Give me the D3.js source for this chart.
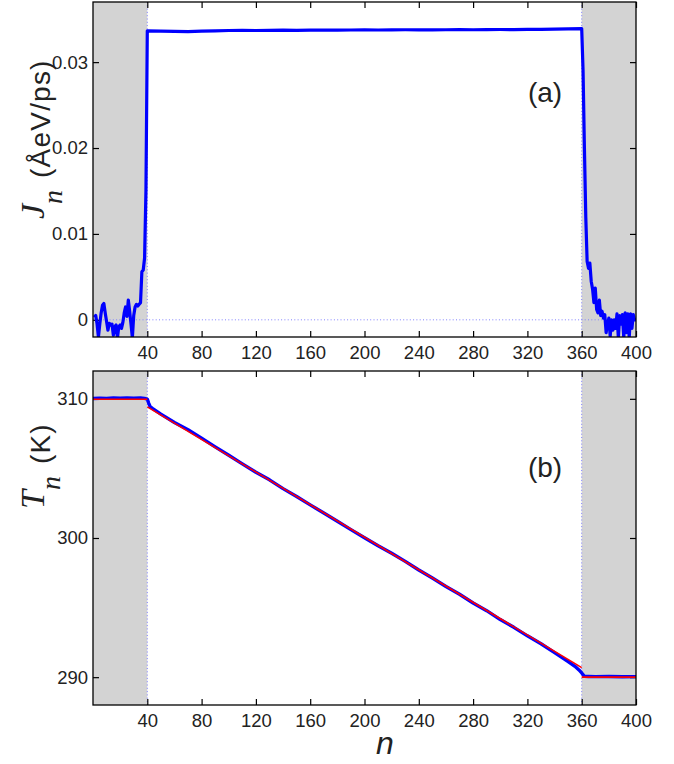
<!DOCTYPE html>
<html>
<head>
<meta charset="utf-8">
<script src="https://cdn.jsdelivr.net/npm/d3@7"></script>
<style>
  body { margin: 0; background: #fff; }
  text { font-family: "Liberation Sans", Arial, sans-serif; fill: #222; }
</style>
</head>
<body>
<svg id="chart"></svg>
<script>
let w = 674;
let h = 764;

// tick labels
let nTicks = [40, 80, 120, 160, 200, 240, 280, 320, 360, 400];
let jTicks = [0, 0.01, 0.02, 0.03];
let tTicks = [290, 300, 310];

// reservoir boundaries (shaded)
let leftBath = [0, 40];
let rightBath = [360, 400];

// heat flux J_n, n = 1..39 (left bath)
let jLeft = [0.0003, 0.0005, -0.0005, -0.0020, -0.0005, 0.0008, 0.0017, 0.0019, 0.0008, -0.0002,
             -0.0012, -0.0004, -0.0006, -0.0005, -0.0018, -0.0008, -0.0006, -0.0021, -0.0008, -0.0006,
             -0.0010, -0.0003, 0.0008, 0.0015, 0.0004, 0.0023, 0.0010, -0.0005, -0.0021, 0.0005,
             0.0015, 0.0018, 0.0016, 0.0018, 0.0020, 0.0056, 0.0058, 0.0072, 0.0150];
// middle region, n = 40..360 step 10
let nMid = [40, 50, 60, 70, 80, 90, 100, 110, 120, 130, 140, 150, 160, 170, 180, 190, 200,
            210, 220, 230, 240, 250, 260, 270, 280, 290, 300, 310, 320, 330, 340, 350, 360];
let jMid = [0.03365, 0.03362, 0.03358, 0.03356, 0.03360, 0.03365, 0.03368, 0.03370, 0.03368, 0.03370,
            0.03372, 0.03370, 0.03372, 0.03374, 0.03372, 0.03374, 0.03375, 0.03374, 0.03375, 0.03377,
            0.03376, 0.03375, 0.03377, 0.03378, 0.03377, 0.03378, 0.03380, 0.03379, 0.03381, 0.03382,
            0.03384, 0.03386, 0.03390];
// right bath, n = 361..400
let jRight = [0.0290, 0.0200, 0.0120, 0.0068, 0.0060, 0.0066, 0.0045, 0.0036, 0.0020, 0.0037,
              0.0012, 0.0008, 0.0023, 0.0005, 0.0010, 0.0002, 0.0006, -0.0015, -0.0005, 0.0002,
              -0.0019, 0.0000, -0.0012, 0.0000, -0.0010, 0.0007, -0.0021, 0.0005, -0.0005, 0.0006,
              -0.0021, 0.0008, -0.0015, 0.0007, -0.0021, 0.0007, -0.0010, 0.0006, 0.0000, 0.0000];

// temperature profile T_n (blue, simulation)
let nTemp = [0, 5, 10, 15, 20, 25, 30, 35, 38, 40, 41, 42, 44, 50, 60, 70, 80, 90, 100, 110, 120,
             130, 140, 150, 160, 170, 180, 190, 200, 210, 220, 230, 240, 250, 260, 270, 280, 290,
             300, 310, 320, 330, 340, 350, 355, 358, 360, 362, 365, 370, 380, 390, 400];
let tTemp = [310.02, 310.04, 310.03, 310.06, 310.04, 310.07, 310.05, 310.06, 310.03, 309.98, 309.70,
             309.45, 309.30, 308.90, 308.30, 307.78, 307.18, 306.55, 305.95, 305.33, 304.72, 304.18,
             303.55, 302.98, 302.38, 301.80, 301.20, 300.60, 300.02, 299.44, 298.90, 298.32, 297.70,
             297.12, 296.52, 295.96, 295.33, 294.78, 294.14, 293.58, 292.97, 292.40, 291.76, 291.12,
             290.78, 290.52, 290.30, 290.06, 290.05, 290.04, 290.05, 290.03, 290.04];
// linear fit (red), three pieces
let nFit = [[0, 40], [40, 360], [360, 400]];
let tFit = [[309.97, 309.97], [309.42, 290.69], [290.0, 290.0]];

let svg = d3.select("#chart").attr("width", w).attr("height", h);

let xScale = d3.scaleLinear().domain([0, 400]).range([93, 636]);
let yJ = d3.scaleLinear().domain([-0.002, 0.037]).range([337, 2]);
let yT = d3.scaleLinear().domain([288, 312]).range([705, 371]);

function drawPanel(yScale, ticks, fmt, id) {
  let y0 = yScale.range()[0], y1 = yScale.range()[1];
  let g = svg.append("g");

  g.append("clipPath").attr("id", id)
    .append("rect").attr("x", xScale(0)).attr("y", y1)
    .attr("width", xScale(400) - xScale(0)).attr("height", y0 - y1);

  // shaded baths
  [leftBath, rightBath].forEach(b => {
    g.append("rect")
      .attr("x", xScale(b[0])).attr("y", y1)
      .attr("width", xScale(b[1]) - xScale(b[0])).attr("height", y0 - y1)
      .attr("fill", "#d3d3d3");
  });

  // dotted boundaries
  [40, 360].forEach(n => {
    g.append("line")
      .attr("x1", xScale(n)).attr("x2", xScale(n))
      .attr("y1", y1).attr("y2", y0)
      .attr("stroke", "#8080ff").attr("stroke-width", 1)
      .attr("stroke-dasharray", "1,2.3");
  });

  let xAxis = d3.axisBottom(xScale).tickValues(nTicks).tickSizeInner(-6).tickSizeOuter(0).tickPadding(9);
  let xTop = d3.axisTop(xScale).tickValues(nTicks).tickSizeInner(-6).tickSizeOuter(0).tickFormat("");
  let yAxis = d3.axisLeft(yScale).tickValues(ticks).tickSizeInner(-6).tickSizeOuter(0).tickPadding(5).tickFormat(fmt);
  let yRight = d3.axisRight(yScale).tickValues(ticks).tickSizeInner(-6).tickSizeOuter(0).tickFormat("");

  g.append("g").attr("transform", `translate(0,${y0})`).call(xAxis);
  g.append("g").attr("transform", `translate(0,${y1})`).call(xTop);
  g.append("g").attr("transform", `translate(${xScale(0)},0)`).call(yAxis);
  g.append("g").attr("transform", `translate(${xScale(400)},0)`).call(yRight);

  g.selectAll(".domain").remove();
  g.selectAll(".tick line").attr("stroke", "#000").attr("stroke-width", 1.2);
  g.selectAll(".tick text").attr("font-size", 18.5).attr("fill", "#222")
    .attr("font-family", "'Liberation Sans', Arial, sans-serif");

  return g;
}

// ---- panel (a)
let gA = drawPanel(yJ, jTicks, d => d === 0 ? "0" : d3.format(".2f")(d), "clipA");

gA.append("line")
  .attr("x1", xScale(0)).attr("x2", xScale(400))
  .attr("y1", yJ(0)).attr("y2", yJ(0))
  .attr("stroke", "#8080ff").attr("stroke-width", 1)
  .attr("stroke-dasharray", "1,2.3");

let jData = [];
jLeft.forEach((v, i) => jData.push([i + 1, v]));
nMid.forEach((n, i) => jData.push([n, jMid[i]]));
jRight.forEach((v, i) => jData.push([361 + i, v]));

let lineJ = d3.line().x(d => xScale(d[0])).y(d => yJ(d[1]));
gA.append("path")
  .datum(jData)
  .attr("clip-path", "url(#clipA)")
  .attr("d", lineJ)
  .attr("fill", "none")
  .attr("stroke", "#0000ff")
  .attr("stroke-width", 3.2)
  .attr("stroke-linejoin", "round");

gA.append("rect")
  .attr("x", xScale(0)).attr("y", yJ.range()[1])
  .attr("width", xScale(400) - xScale(0)).attr("height", yJ.range()[0] - yJ.range()[1])
  .attr("fill", "none").attr("stroke", "#000").attr("stroke-width", 1.3);

gA.append("text").attr("x", 545).attr("y", 102).attr("text-anchor", "middle")
  .attr("font-size", 28).text("(a)");

// ---- panel (b)
let gB = drawPanel(yT, tTicks, d => d, "clipB");

let lineT = d3.line().x(d => xScale(d[0])).y(d => yT(d[1]));
gB.append("path")
  .datum(nTemp.map((n, i) => [n, tTemp[i]]))
  .attr("clip-path", "url(#clipB)")
  .attr("d", lineT)
  .attr("fill", "none")
  .attr("stroke", "#0000ff")
  .attr("stroke-width", 3.4)
  .attr("stroke-linejoin", "round");

nFit.forEach((seg, k) => {
  gB.append("path")
    .datum(seg.map((n, i) => [n, tFit[k][i]]))
    .attr("d", lineT)
    .attr("fill", "none")
    .attr("stroke", "#ff0000")
    .attr("stroke-width", 1.6);
});

gB.append("rect")
  .attr("x", xScale(0)).attr("y", yT.range()[1])
  .attr("width", xScale(400) - xScale(0)).attr("height", yT.range()[0] - yT.range()[1])
  .attr("fill", "none").attr("stroke", "#000").attr("stroke-width", 1.3);

gB.append("text").attr("x", 545).attr("y", 477).attr("text-anchor", "middle")
  .attr("font-size", 28).text("(b)");

// ---- axis labels
let serif = "'Liberation Serif', 'Times New Roman', serif";

let labJ = svg.append("text").attr("transform", "translate(44,219) rotate(-90)");
labJ.append("tspan").attr("font-family", serif).attr("font-style", "italic").attr("font-size", 34).text("J");
labJ.append("tspan").attr("font-family", serif).attr("font-style", "italic").attr("font-size", 28)
  .attr("dy", 18).attr("dx", 0).text("n");
labJ.append("tspan").attr("font-size", 28).attr("letter-spacing", 1.2)
  .attr("dy", -12).attr("dx", 12).text("(ÅeV/ps)");

let labT = svg.append("text").attr("transform", "translate(44,509) rotate(-90)");
labT.append("tspan").attr("font-family", serif).attr("font-style", "italic").attr("font-size", 34).text("T");
labT.append("tspan").attr("font-family", serif).attr("font-style", "italic").attr("font-size", 28)
  .attr("dy", 16).attr("dx", 0).text("n");
labT.append("tspan").attr("font-size", 28).attr("letter-spacing", 1.2)
  .attr("dy", -10).attr("dx", 12).text("(K)");

svg.append("text").attr("x", 385).attr("y", 754).attr("text-anchor", "middle")
  .attr("font-family", serif).attr("font-style", "italic").attr("font-size", 32).text("n");
</script>
</body>
</html>
